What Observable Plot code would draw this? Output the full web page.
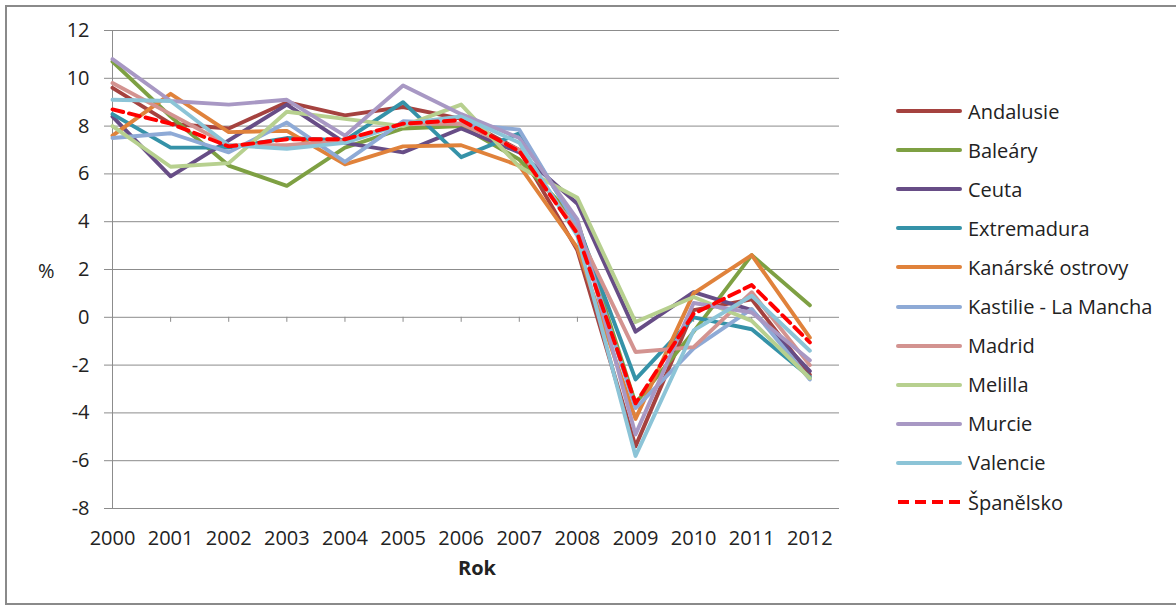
<!DOCTYPE html>
<html>
<head>
<meta charset="utf-8">
<script src="https://cdn.jsdelivr.net/npm/d3@7"></script>
<script src="https://cdn.jsdelivr.net/npm/@observablehq/plot@0.6"></script>
<style>
  html, body { margin: 0; padding: 0; background: #fff; }
  #wrap { position: relative; width: 1176px; height: 608px; overflow: hidden; font-family: "Open Sans", sans-serif; color: #222; }
  #border { position: absolute; left: 5px; top: 5px; width: 1200px; height: 600px; border: 2px solid #8a8a8a; box-sizing: border-box; }
  #chart { position: absolute; left: 0; top: 0; }
  .lbl { position: absolute; font-size: 20px; line-height: 1; white-space: nowrap; }
  #legend { position: absolute; left: 0; top: 0; }
  .item { position: absolute; height: 30px; display: flex; align-items: center; font-size: 20px; white-space: nowrap; }
  .item svg { margin-right: 6px; }
</style>
</head>
<body>
<div id="wrap">
  <div id="border"></div>
  <div id="chart"></div>
  <div class="lbl" id="ylab" style="left:38px; top:261px;">%</div>
  <div class="lbl" id="xlab" style="left:458px; top:558px; font-weight:bold;">Rok</div>
  <div id="legend"></div>
</div>
<script>
const years = [2000, 2001, 2002, 2003, 2004, 2005, 2006, 2007, 2008, 2009, 2010, 2011, 2012];
const yTicks = [-8, -6, -4, -2, 0, 2, 4, 6, 8, 10, 12];

const regions = ["Andalusie", "Baleáry", "Ceuta", "Extremadura", "Kanárské ostrovy", "Kastilie - La Mancha", "Madrid", "Melilla", "Murcie", "Valencie"];
const spainName = "Španělsko";

const andalusie   = [9.6, 8.1, 7.9, 9.0, 8.45, 8.8, 8.3, 7.0, 2.8, -5.4, 0.3, 0.75, -2.4];
const balearay    = [10.7, 8.4, 6.35, 5.5, 7.1, 7.9, 8.0, 6.6, 4.0, -3.6, -0.6, 2.6, 0.5];
const ceuta       = [8.4, 5.9, 7.4, 8.9, 7.3, 6.9, 7.9, 6.9, 4.75, -0.6, 1.05, 0.3, -2.25];
const extremadura = [8.5, 7.1, 7.1, 7.5, 7.4, 9.0, 6.7, 7.7, 3.9, -2.6, 0.0, -0.5, -2.5];
const kanarske    = [7.6, 9.35, 7.75, 7.8, 6.4, 7.15, 7.2, 6.35, 2.9, -4.25, 1.0, 2.6, -0.85];
const kastilie    = [7.5, 7.7, 6.9, 8.15, 6.5, 8.2, 8.1, 7.85, 3.8, -3.8, -1.3, 0.35, -2.6];
const madrid      = [9.8, 8.5, 7.2, 7.2, 7.4, 8.1, 8.1, 7.0, 3.6, -1.45, -1.25, 1.05, -2.0];
const melilla     = [8.0, 6.3, 6.45, 8.6, 8.3, 8.0, 8.9, 6.3, 5.0, -0.2, 0.85, -0.15, -2.55];
const murcie      = [10.8, 9.05, 8.9, 9.1, 7.6, 9.7, 8.5, 7.5, 4.1, -4.9, 0.6, 0.2, -1.8];
const valencie    = [9.1, 9.05, 7.2, 7.05, 7.3, 8.1, 8.4, 7.3, 3.4, -5.8, -0.55, 0.9, -1.4];
const spanelsko   = [8.7, 8.1, 7.15, 7.45, 7.45, 8.1, 8.25, 6.95, 3.5, -3.6, 0.15, 1.35, -1.05];

const seriesValues = [andalusie, balearay, ceuta, extremadura, kanarske, kastilie, madrid, melilla, murcie, valencie];
const colors = ["#a5423f", "#7ea043", "#674d86", "#3592a8", "#e0823b", "#8eaad6", "#d39390", "#b7d08f", "#a898c4", "#8cc4d7"];
const spainColor = "#ff0000";

const rows = regions.flatMap((r, i) => years.map((yr, j) => ({region: r, year: yr, value: seriesValues[i][j]})));
const spainRows = years.map((yr, j) => ({region: spainName, year: yr, value: spanelsko[j]}));

const xMax = 2012.51;

const chart = Plot.plot({
  width: 1176,
  height: 608,
  marginLeft: 112,
  marginTop: 30,
  marginBottom: 100,
  marginRight: 337,
  style: {fontFamily: "Open Sans, sans-serif", fontSize: "20px", color: "#222", background: "transparent", overflow: "visible"},
  x: {domain: [2000, xMax]},
  y: {domain: [-8, 12]},
  color: {domain: regions, range: colors},
  marks: [
    Plot.gridY(yTicks, {stroke: "#8c8c8c", strokeOpacity: 1, strokeWidth: 1}),
    Plot.axisY({ticks: yTicks, tickSize: 8, tickPadding: 15, stroke: "#8c8c8c", tickFormat: d => String(d), label: null}),
    Plot.axisX({ticks: years, tickSize: 0, tickPadding: 22, tickFormat: d => String(d), label: null}),
    Plot.ruleX([2000], {stroke: "#8c8c8c", strokeWidth: 1}),
    Plot.ruleX(years, {x: d => d, y1: 0, y2: -0.21, stroke: "#8c8c8c", strokeWidth: 1}),
    Plot.line(rows, {x: "year", y: "value", z: "region", stroke: "region", strokeWidth: 3.9, strokeLinejoin: "round", strokeLinecap: "round"}),
    Plot.line(spainRows, {x: "year", y: "value", stroke: spainColor, strokeWidth: 3.9, strokeDasharray: "11,6", strokeLinejoin: "round"})
  ]
});
document.getElementById("chart").appendChild(chart);

// Legend
const legend = document.getElementById("legend");
const legendItems = regions.map((r, i) => ({name: r, color: colors[i], dash: null})).concat([{name: spainName, color: spainColor, dash: "11,6"}]);
legendItems.forEach((it, i) => {
  const div = document.createElement("div");
  div.className = "item";
  div.style.left = "896px";
  div.style.top = (111 + i * 39.1 - 15) + "px";
  const svg = `<svg width="66" height="10"><line x1="2" y1="5" x2="64" y2="5" stroke="${it.color}" stroke-width="4" ${it.dash ? `stroke-dasharray="${it.dash}"` : 'stroke-linecap="round"'}/></svg>`;
  div.innerHTML = svg + `<span>${it.name}</span>`;
  legend.appendChild(div);
});
</script>
</body>
</html>
